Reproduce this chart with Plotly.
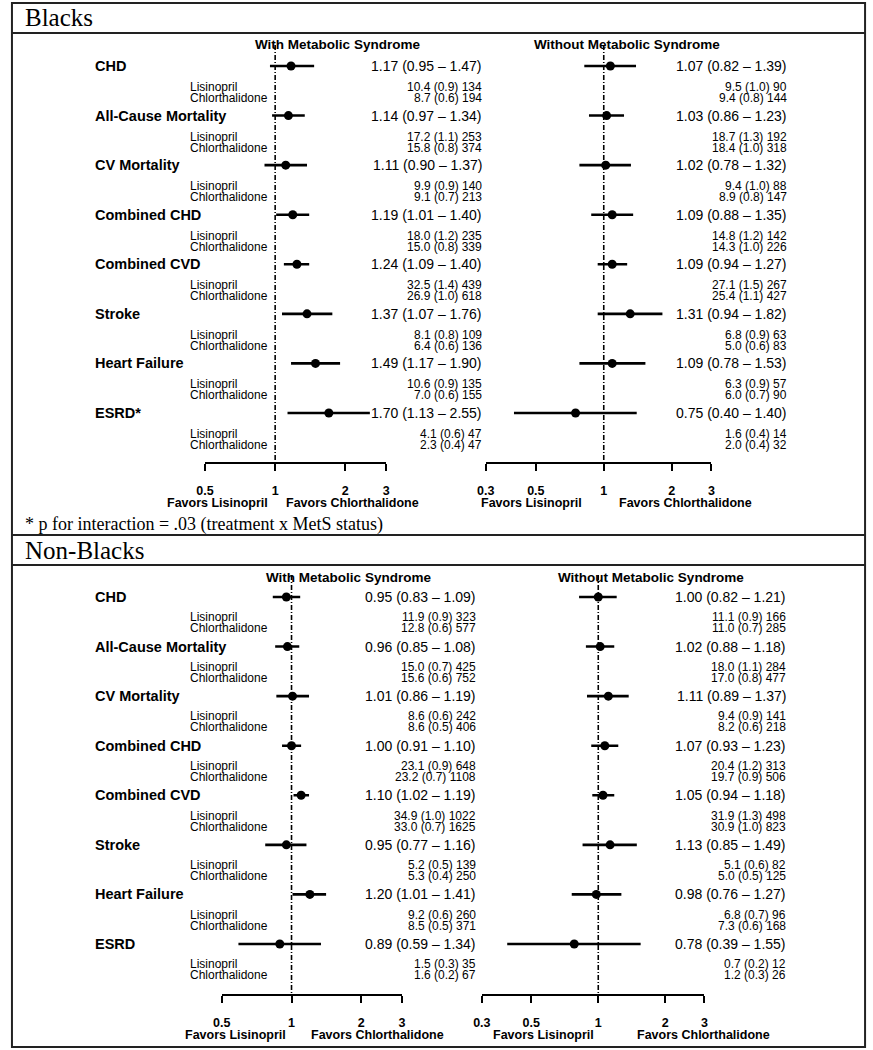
import math
import plotly.graph_objects as go

W, H = 873, 1050
SANS = "Liberation Sans, Arial, sans-serif"
SERIF = "Liberation Serif, Times New Roman, serif"

# ---- data -------------------------------------------------------------
outcomes_blacks = ["CHD", "All-Cause Mortality", "CV Mortality", "Combined CHD",
                   "Combined CVD", "Stroke", "Heart Failure", "ESRD*"]
outcomes_nonblacks = ["CHD", "All-Cause Mortality", "CV Mortality", "Combined CHD",
                      "Combined CVD", "Stroke", "Heart Failure", "ESRD"]

# Blacks, with metabolic syndrome
blk_mets_hr = [1.17, 1.14, 1.11, 1.19, 1.24, 1.37, 1.49, 1.70]
blk_mets_lo = [0.95, 0.97, 0.90, 1.01, 1.09, 1.07, 1.17, 1.13]
blk_mets_hi = [1.47, 1.34, 1.37, 1.40, 1.40, 1.76, 1.90, 2.55]
blk_mets_lis = ["10.4 (0.9) 134", "17.2 (1.1) 253", "9.9 (0.9) 140", "18.0 (1.2) 235",
                "32.5 (1.4) 439", "8.1 (0.8) 109", "10.6 (0.9) 135", "4.1 (0.6) 47"]
blk_mets_chl = ["8.7 (0.6) 194", "15.8 (0.8) 374", "9.1 (0.7) 213", "15.0 (0.8) 339",
                "26.9 (1.0) 618", "6.4 (0.6) 136", "7.0 (0.6) 155", "2.3 (0.4) 47"]

# Blacks, without metabolic syndrome
blk_nomets_hr = [1.07, 1.03, 1.02, 1.09, 1.09, 1.31, 1.09, 0.75]
blk_nomets_lo = [0.82, 0.86, 0.78, 0.88, 0.94, 0.94, 0.78, 0.40]
blk_nomets_hi = [1.39, 1.23, 1.32, 1.35, 1.27, 1.82, 1.53, 1.40]
blk_nomets_lis = ["9.5 (1.0) 90", "18.7 (1.3) 192", "9.4 (1.0) 88", "14.8 (1.2) 142",
                  "27.1 (1.5) 267", "6.8 (0.9) 63", "6.3 (0.9) 57", "1.6 (0.4) 14"]
blk_nomets_chl = ["9.4 (0.8) 144", "18.4 (1.0) 318", "8.9 (0.8) 147", "14.3 (1.0) 226",
                  "25.4 (1.1) 427", "5.0 (0.6) 83", "6.0 (0.7) 90", "2.0 (0.4) 32"]

# Non-Blacks, with metabolic syndrome
nb_mets_hr = [0.95, 0.96, 1.01, 1.00, 1.10, 0.95, 1.20, 0.89]
nb_mets_lo = [0.83, 0.85, 0.86, 0.91, 1.02, 0.77, 1.01, 0.59]
nb_mets_hi = [1.09, 1.08, 1.19, 1.10, 1.19, 1.16, 1.41, 1.34]
nb_mets_lis = ["11.9 (0.9) 323", "15.0 (0.7) 425", "8.6 (0.6) 242", "23.1 (0.9) 648",
               "34.9 (1.0) 1022", "5.2 (0.5) 139", "9.2 (0.6) 260", "1.5 (0.3) 35"]
nb_mets_chl = ["12.8 (0.6) 577", "15.6 (0.6) 752", "8.6 (0.5) 406", "23.2 (0.7) 1108",
               "33.0 (0.7) 1625", "5.3 (0.4) 250", "8.5 (0.5) 371", "1.6 (0.2) 67"]

# Non-Blacks, without metabolic syndrome
nb_nomets_hr = [1.00, 1.02, 1.11, 1.07, 1.05, 1.13, 0.98, 0.78]
nb_nomets_lo = [0.82, 0.88, 0.89, 0.93, 0.94, 0.85, 0.76, 0.39]
nb_nomets_hi = [1.21, 1.18, 1.37, 1.23, 1.18, 1.49, 1.27, 1.55]
nb_nomets_lis = ["11.1 (0.9) 166", "18.0 (1.1) 284", "9.4 (0.9) 141", "20.4 (1.2) 313",
                 "31.9 (1.3) 498", "5.1 (0.6) 82", "6.8 (0.7) 96", "0.7 (0.2) 12"]
nb_nomets_chl = ["11.0 (0.7) 285", "17.0 (0.8) 477", "8.2 (0.6) 218", "19.7 (0.9) 506",
                 "30.9 (1.0) 823", "5.0 (0.5) 125", "7.3 (0.6) 168", "1.2 (0.3) 26"]

ticks_with = [0.5, 1, 2, 3]
ticks_without = [0.3, 0.5, 1, 2, 3]
treatments = ["Lisinopril", "Chlorthalidone"]

# ---- layout of the four panels (pixel positions) ----------------------
panels = [
    dict(title="With Metabolic Syndrome", outcomes=outcomes_blacks,
         hr=blk_mets_hr, lo=blk_mets_lo, hi=blk_mets_hi, lis=blk_mets_lis, chl=blk_mets_chl,
         ticks=ticks_with, xpx=(199, 383), ytop=45, yaxis=462, row0=66, step=49.57,
         sub=(0.424, 0.646), txt_right=482, title_x=333, title_y=45,
         fav=(212, 349), labels=True),
    dict(title="Without Metabolic Syndrome", outcomes=outcomes_blacks,
         hr=blk_nomets_hr, lo=blk_nomets_lo, hi=blk_nomets_hi, lis=blk_nomets_lis, chl=blk_nomets_chl,
         ticks=ticks_without, xpx=(484, 713), ytop=45, yaxis=462, row0=66, step=49.57,
         sub=(0.424, 0.646), txt_right=792, title_x=627, title_y=45,
         fav=(530, 687), labels=False),
    dict(title="With Metabolic Syndrome", outcomes=outcomes_nonblacks,
         hr=nb_mets_hr, lo=nb_mets_lo, hi=nb_mets_hi, lis=nb_mets_lis, chl=nb_mets_chl,
         ticks=ticks_with, xpx=(216, 399), ytop=575, yaxis=994, row0=597, step=49.57,
         sub=(0.41, 0.63), txt_right=476, title_x=345, title_y=577,
         fav=(230, 374), labels=True),
    dict(title="Without Metabolic Syndrome", outcomes=outcomes_nonblacks,
         hr=nb_nomets_hr, lo=nb_nomets_lo, hi=nb_nomets_hi, lis=nb_nomets_lis, chl=nb_nomets_chl,
         ticks=ticks_without, xpx=(480, 706), ytop=575, yaxis=994, row0=597, step=49.57,
         sub=(0.41, 0.63), txt_right=791, title_x=652, title_y=577,
         fav=(543, 705), labels=False),
]


def px_x(x):
    return x / W


def px_y(y):
    return 1 - y / H


fig = go.Figure()
annotations = []
layout_axes = {}

for i, p in enumerate(panels):
    n = i + 1
    xa = "x" if n == 1 else f"x{n}"
    ya = "y" if n == 1 else f"y{n}"
    rows = list(range(len(p["hr"])))
    ybot = (p["yaxis"] - p["row0"]) / p["step"]
    ytop = (p["ytop"] - p["row0"]) / p["step"]

    # reference line at HR = 1
    fig.add_trace(go.Scatter(x=[1, 1], y=[ytop, ybot], mode="lines", xaxis=xa, yaxis=ya,
                             line=dict(color="black", width=1.6, dash="5px,2px,1px,2px"),
                             hoverinfo="skip", showlegend=False))
    # confidence intervals
    cx, cy = [], []
    for k in rows:
        cx += [p["lo"][k], p["hi"][k], None]
        cy += [k, k, None]
    fig.add_trace(go.Scatter(x=cx, y=cy, mode="lines", xaxis=xa, yaxis=ya,
                             line=dict(color="black", width=2.6), cliponaxis=False,
                             hoverinfo="skip", showlegend=False))
    # point estimates
    fig.add_trace(go.Scatter(x=p["hr"], y=rows, mode="markers", xaxis=xa, yaxis=ya,
                             marker=dict(color="black", size=9, symbol="circle"),
                             cliponaxis=False, showlegend=False))

    layout_axes["xaxis" if n == 1 else f"xaxis{n}"] = dict(
        type="log", range=[math.log10(p["ticks"][0]), math.log10(3)],
        domain=[px_x(p["xpx"][0]), px_x(p["xpx"][1])], anchor=ya,
        tickvals=p["ticks"], ticktext=[f"{t:g}" for t in p["ticks"]],
        showline=True, linecolor="black", linewidth=2, ticks="outside", ticklen=7,
        tickwidth=2, tickcolor="black", ticklabelstandoff=9,
        tickfont=dict(family=SANS, size=12.5, color="black", weight="bold"),
        showgrid=False, zeroline=False, fixedrange=True)
    layout_axes["yaxis" if n == 1 else f"yaxis{n}"] = dict(
        range=[ybot, ytop], domain=[px_y(p["yaxis"]), px_y(p["ytop"])], anchor=xa,
        visible=False, showgrid=False, zeroline=False, fixedrange=True)

    # panel title
    annotations.append(dict(text=p["title"], x=px_x(p["title_x"]), y=px_y(p["title_y"]),
                            xref="paper", yref="paper", showarrow=False,
                            xanchor="center", yanchor="middle",
                            font=dict(family=SANS, size=13.5, color="black", weight="bold")))
    # favors labels
    fav_y = p["yaxis"] + 41
    for txt, fx in zip(["Favors Lisinopril", "Favors Chlorthalidone"], p["fav"]):
        annotations.append(dict(text=txt, x=px_x(fx), y=px_y(fav_y), xref="paper",
                                yref="paper", showarrow=False, xanchor="center",
                                yanchor="middle",
                                font=dict(family=SANS, size=12.5, color="black",
                                          weight="bold")))

    for k in rows:
        hr_txt = f"{p['hr'][k]:.2f} ({p['lo'][k]:.2f} \u2013 {p['hi'][k]:.2f})"
        annotations.append(dict(text=hr_txt, x=px_x(p["txt_right"]), y=k, xref="paper",
                                yref=ya, showarrow=False, xanchor="right", align="right",
                                yanchor="middle",
                                font=dict(family=SANS, size=14, color="black")))
        for off, stat in zip(p["sub"], [p["lis"][k], p["chl"][k]]):
            annotations.append(dict(text=stat, x=px_x(p["txt_right"]), y=k + off,
                                    xref="paper", yref=ya, showarrow=False,
                                    xanchor="right", align="right", yanchor="middle",
                                    font=dict(family=SANS, size=12, color="black")))
        if p["labels"]:
            annotations.append(dict(text=p["outcomes"][k], x=px_x(85), y=k, xref="paper",
                                    yref=ya, showarrow=False, xanchor="left", align="left",
                                    yanchor="middle",
                                    font=dict(family=SANS, size=14.5, color="black",
                                              weight="bold")))
            for off, trt in zip(p["sub"], treatments):
                annotations.append(dict(text=trt, x=px_x(182), y=k + off, xref="paper",
                                        yref=ya, showarrow=False, xanchor="left",
                                        align="left", yanchor="middle",
                                        font=dict(family=SANS, size=12, color="black")))

# section headers and footnote
for txt, y, size in [("Blacks", 17, 25), ("* p for interaction = .03 (treatment x MetS status)", 524, 18),
                     ("Non-Blacks", 550, 25)]:
    annotations.append(dict(text=txt, x=px_x(14), y=px_y(y), xref="paper", yref="paper",
                            showarrow=False, xanchor="left", yanchor="middle",
                            font=dict(family=SERIF, size=size, color="black")))

# frame lines
shapes = [dict(type="rect", xref="paper", yref="paper", x0=px_x(3), x1=px_x(869),
               y0=px_y(1047), y1=px_y(3), line=dict(color="#222", width=2))]
for yl in [33, 535, 565]:
    shapes.append(dict(type="line", xref="paper", yref="paper", x0=px_x(3), x1=px_x(869),
                       y0=px_y(yl), y1=px_y(yl), line=dict(color="#222", width=2)))

fig.update_layout(
    width=W, height=H, margin=dict(l=0, r=0, t=0, b=0),
    paper_bgcolor="white", plot_bgcolor="white", showlegend=False,
    annotations=annotations, shapes=shapes, **layout_axes)

fig.write_html("out.html", config={"displayModeBar": False},
               post_script="document.body.style.margin='0';"
                           "document.body.style.overflow='hidden';")
